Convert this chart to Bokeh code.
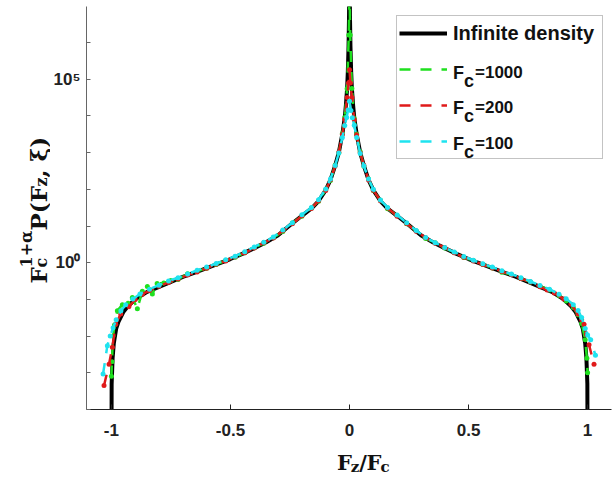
import math
from bokeh.plotting import figure
from bokeh.layouts import row, column
from bokeh.models import (FixedTicker, CustomJSTickFormatter, Legend, LegendItem,
                          Range1d, LinearScale)
from bokeh.core.properties import value
from bokeh.embed import file_html
from bokeh.resources import INLINE

# ---------------- data ----------------
inf_fz = [-1.0, -0.999, -0.995, -0.99, -0.98, -0.97, -0.95, -0.93, -0.9, -0.85,
          -0.8, -0.75, -0.7, -0.65, -0.6, -0.55, -0.5, -0.45, -0.4, -0.35,
          -0.3, -0.25, -0.2, -0.16, -0.13, -0.1, -0.08, -0.06, -0.045, -0.03,
          -0.02, -0.015, -0.01, -0.007, -0.004, -0.002, -0.001,
          0.0,
          0.001, 0.002, 0.004, 0.007, 0.01, 0.015, 0.02, 0.03, 0.045, 0.06,
          0.08, 0.1, 0.13, 0.16, 0.2, 0.25, 0.3, 0.35, 0.4, 0.45,
          0.5, 0.55, 0.6, 0.65, 0.7, 0.75, 0.8, 0.85, 0.9, 0.93,
          0.95, 0.97, 0.98, 0.99, 0.995, 0.999, 1.0]
inf_p = [1e-6, 5.0e-4, 2.5e-3, 6.3e-3, 1.6e-2, 2.5e-2, 4.5e-2, 6.6e-2, 0.10, 0.16,
         0.22, 0.30, 0.41, 0.54, 0.71, 0.95, 1.26, 1.74, 2.5, 3.6,
         5.6, 10.5, 19, 30, 48, 95, 180, 450, 1.0e3, 3.2e3,
         8.9e3, 2.0e4, 5.6e4, 1.6e5, 7.9e5, 5.0e6, 3.2e7,
         1e8,
         3.2e7, 5.0e6, 7.9e5, 1.6e5, 5.6e4, 2.0e4, 8.9e3, 3.2e3, 1.0e3, 450,
         180, 95, 48, 30, 19, 10.5, 5.6, 3.6, 2.5, 1.74,
         1.26, 0.95, 0.71, 0.54, 0.41, 0.30, 0.22, 0.16, 0.10, 6.6e-2,
         4.5e-2, 2.5e-2, 1.6e-2, 6.3e-3, 2.5e-3, 5.0e-4, 1e-6]

fc1000_fz = [-1.0, -0.998, -0.993, -0.987, -0.975, -0.954, -0.93, -0.912, -0.891, -0.87,
             -0.849, -0.828, -0.808, -0.78, -0.75, -0.72, -0.68, -0.64, -0.6, -0.56,
             -0.52, -0.48, -0.44, -0.4, -0.36, -0.32, -0.28, -0.24, -0.2, -0.16,
             -0.13, -0.1, -0.08, -0.06, -0.045, -0.03, -0.02, -0.01, -0.003,
             0.0,
             0.003, 0.01, 0.02, 0.03, 0.045, 0.06, 0.08, 0.1, 0.13, 0.16,
             0.2, 0.24, 0.28, 0.32, 0.36, 0.4, 0.44, 0.48, 0.52, 0.56,
             0.6, 0.64, 0.68, 0.72, 0.76, 0.8, 0.84, 0.88, 0.91, 0.94,
             0.96, 0.975, 0.99, 0.997, 1.0]
fc1000_p = [8.0e-4, 2.0e-3, 1.0e-2, 2.0e-2, 4.9e-2, 7.2e-2, 7.9e-2, 0.112, 0.056, 0.166,
            0.224, 0.141, 0.27, 0.28, 0.33, 0.35, 0.50, 0.58, 0.71, 0.89,
            1.15, 1.41, 1.86, 2.57, 3.4, 4.8, 7.1, 12.0, 18.6, 31,
            47, 98, 174, 457, 977, 3.3e3, 9.1e3, 5.5e4, 1.6e6,
            3.0e7,
            1.6e6, 5.6e4, 8.5e3, 3.2e3, 1.05e3, 430, 190, 93, 50, 29.5,
            19.5, 11.5, 7.4, 4.6, 3.5, 2.5, 1.9, 1.38, 1.15, 0.91,
            0.72, 0.55, 0.48, 0.37, 0.30, 0.23, 0.18, 0.126, 0.091, 0.060,
            0.038, 0.022, 7.9e-3, 2.5e-3, 1.0e-3]

fc200_fz = [-1.031, -1.01, -0.996, -0.982, -0.961, -0.926, -0.9, -0.87, -0.84, -0.8,
            -0.76, -0.72, -0.68, -0.64, -0.6, -0.56, -0.52, -0.48, -0.44, -0.4,
            -0.36, -0.32, -0.28, -0.24, -0.2, -0.16, -0.13, -0.1, -0.08, -0.06,
            -0.045, -0.03, -0.02, -0.01, -0.004,
            0.0,
            0.004, 0.01, 0.02, 0.03, 0.045, 0.06, 0.08, 0.1, 0.13, 0.16,
            0.2, 0.24, 0.28, 0.32, 0.36, 0.4, 0.44, 0.48, 0.52, 0.56,
            0.6, 0.64, 0.68, 0.72, 0.76, 0.8, 0.83, 0.86, 0.9, 0.93,
            0.96, 0.975, 0.985, 0.995, 1.006, 1.027]
fc200_p = [4.5e-4, 1.7e-3, 5.0e-3, 2.1e-2, 4.0e-2, 6.3e-2, 0.10, 0.138, 0.174, 0.23,
           0.29, 0.36, 0.46, 0.56, 0.71, 0.91, 1.12, 1.45, 1.86, 2.5,
           3.5, 4.7, 7.4, 11.5, 19, 30, 49, 93, 182, 436,
           1.02e3, 3.1e3, 8.1e3, 3.2e4, 7.9e4,
           1.8e5,
           7.9e4, 3.2e4, 7.9e3, 3.0e3, 1.0e3, 450, 180, 95, 49, 31,
           18.6, 11.7, 7.2, 4.8, 3.4, 2.6, 1.86, 1.41, 1.12, 0.89,
           0.72, 0.58, 0.47, 0.37, 0.30, 0.22, 0.18, 0.15, 0.102, 0.074,
           0.040, 0.028, 0.021, 0.011, 5.8e-3, 1.7e-3]

fc100_fz = [-1.035, -1.017, -1.005, -0.993, -0.98, -0.96, -0.94, -0.91, -0.88, -0.84,
            -0.8, -0.76, -0.72, -0.68, -0.64, -0.6, -0.56, -0.52, -0.48, -0.44,
            -0.4, -0.36, -0.32, -0.28, -0.24, -0.2, -0.16, -0.13, -0.1, -0.08,
            -0.06, -0.045, -0.03, -0.02, -0.012, -0.006,
            0.0,
            0.006, 0.012, 0.02, 0.03, 0.045, 0.06, 0.08, 0.1, 0.13, 0.16,
            0.2, 0.24, 0.28, 0.32, 0.36, 0.4, 0.44, 0.48, 0.52, 0.56,
            0.6, 0.64, 0.68, 0.72, 0.76, 0.8, 0.84, 0.88, 0.91, 0.94,
            0.96, 0.975, 0.99, 1.0, 1.013, 1.033]
fc100_p = [9.3e-4, 5.5e-3, 1.0e-2, 1.66e-2, 2.8e-2, 4.9e-2, 7.1e-2, 0.102, 0.141, 0.19,
           0.245, 0.32, 0.39, 0.49, 0.62, 0.76, 0.95, 1.2, 1.51, 2.0,
           2.7, 3.6, 5.0, 7.8, 12.3, 20.4, 32, 52, 102, 191,
           447, 977, 2.6e3, 5.5e3, 9.1e3, 1.45e4,
           2.5e4,
           1.4e4, 8.9e3, 5.6e3, 2.6e3, 950, 440, 190, 100, 51, 32,
           20, 12.3, 7.6, 4.9, 3.5, 2.6, 1.95, 1.48, 1.17, 0.93,
           0.76, 0.60, 0.49, 0.39, 0.31, 0.24, 0.19, 0.138, 0.105, 0.072,
           0.050, 0.032, 0.016, 0.0107, 7.9e-3, 3.0e-3]

x_ticks = [-1, -0.5, 0, 0.5, 1]
y_ticks = [1e-4, 1e-3, 1e-2, 1e-1, 1e0, 1e1, 1e2, 1e3, 1e4, 1e5, 1e6]
legend_fc = ["1000", "200", "100"]

GREEN = "#1fe01f"
RED = "#e01a1a"
CYAN = "#1fe3ef"
TXT = "#111111"

X_START, X_END = -1.1046, 1.1004
Y_START, Y_END = 1e-4, 9.6e6

# ---------------- main plot ----------------
p = figure(width=566, height=442, x_range=Range1d(X_START, X_END),
           y_range=Range1d(Y_START, Y_END), y_axis_type="log",
           output_backend="svg", toolbar_location=None, title=None,
           min_border_left=34, min_border_right=5, min_border_top=6,
           min_border_bottom=33)
p.outline_line_color = None
p.xgrid.visible = False
p.ygrid.visible = False
# linear page-pixel helper ranges, used only to place the legend's texts
p.extra_x_ranges = {"px": Range1d(84, 611)}
p.extra_y_ranges = {"px": Range1d(409, 6)}
p.extra_x_scales = {"px": LinearScale()}
p.extra_y_scales = {"px": LinearScale()}

black = p.line(inf_fz, inf_p, line_color="black", line_width=4)
renders = []
for xs, ys, col in [(fc1000_fz, fc1000_p, GREEN), (fc200_fz, fc200_p, RED),
                    (fc100_fz, fc100_p, CYAN)]:
    ln = p.line(xs, ys, line_color=col, line_width=2.5, line_dash="11 10")
    p.scatter(xs, ys, size=5, fill_color=col, line_color=None)
    renders.append(ln)

p.xaxis.ticker = FixedTicker(ticks=x_ticks)
p.xaxis.formatter = CustomJSTickFormatter(code="return String(tick);")
p.yaxis.ticker = FixedTicker(ticks=y_ticks)
p.yaxis.formatter = CustomJSTickFormatter(code="""
const e = Math.round(Math.log10(tick));
if (e === 0) return "10\u2070";
if (e === 5) return "10\u2075";
return "";
""")
for ax in (p.xaxis[0], p.yaxis[0]):
    ax.major_tick_out = 0
    ax.minor_tick_out = 0
    ax.minor_tick_in = 0
    ax.major_label_text_font = "Liberation Sans"
    ax.major_label_text_font_style = "bold"
    ax.major_label_text_font_size = "17px"
    ax.major_label_text_color = "#222222"
p.xaxis.axis_line_color = "#222222"
p.xaxis.major_tick_line_color = "#222222"
p.xaxis.major_tick_in = 5
p.xaxis.major_label_standoff = 14
p.yaxis.axis_line_color = "#666666"
p.yaxis.major_tick_line_color = "#666666"
p.yaxis.major_tick_in = 4
p.yaxis.major_label_standoff = 6

items = [LegendItem(label=value("Infinite density"), renderers=[black])]
for r in renders:
    items.append(LegendItem(label=value(" "), renderers=[r]))
legend = Legend(items=items, location=(310, 250), padding=2, spacing=6, margin=0,
                glyph_width=48, glyph_height=30, label_height=30, label_width=147,
                label_standoff=6, border_line_color="#888888", border_line_width=1,
                background_fill_color="white", background_fill_alpha=0.0,
                label_text_font="Liberation Sans", label_text_font_style="bold",
                label_text_font_size="20px", label_text_color=TXT)
p.add_layout(legend)

# legend texts "F_c=..." shown inside the (transparent) legend box
leg_base = [72, 107, 143]
for size, xs, ys, texts in [
        ("18px", [452] * 3 + [463] * 3, leg_base + [b + 8 for b in leg_base],
         ["F"] * 3 + ["c"] * 3),
        ("17px", [474] * 3, leg_base, ["=" + fc for fc in legend_fc])]:
    p.text(x=xs, y=ys, text=texts, x_range_name="px", y_range_name="px",
           text_font=value("Liberation Sans"), text_font_style="bold",
           text_font_size=size, text_color=TXT, text_align="left",
           text_baseline="alphabetic")


def label_fig(w, h):
    f = figure(width=w, height=h, x_range=Range1d(0, w), y_range=Range1d(0, h),
               output_backend="svg", toolbar_location=None, title=None,
               x_axis_location=None, y_axis_location=None,
               min_border_left=0, min_border_right=0, min_border_top=0,
               min_border_bottom=0)
    f.outline_line_color = None
    f.grid.visible = False
    return f


def put(f, xs, ys, texts, size, angle=0.0):
    f.text(x=xs, y=ys, text=texts, angle=angle, text_font=value("DejaVu Serif"),
           text_font_style="bold", text_font_size=size, text_color=TXT,
           text_align="left", text_baseline="alphabetic")


# y axis label: F_c^{1+α} P(F_z, ξ)  (rotated)
ylab = label_fig(50, 477)
A = math.pi / 2
put(ylab, [38, 38, 38], [194, 247, 300], ["F", "P(F", ", ξ)"], "23px", A)
put(ylab, [41, 41], [210, 291], ["c", "z"], "16px", A)
put(ylab, [26], [210], ["1+α"], "16px", A)

# x axis label: F_z / F_c
xlab = label_fig(566, 35)
put(xlab, [270, 294, 302], [15, 15, 15], ["F", "/", "F"], "21px")
put(xlab, [285, 317], [11, 11], ["z", "c"], "15px")

layout = row(ylab, column(p, xlab, spacing=0), spacing=0)
open("out.html", "w").write(file_html(layout, INLINE))
